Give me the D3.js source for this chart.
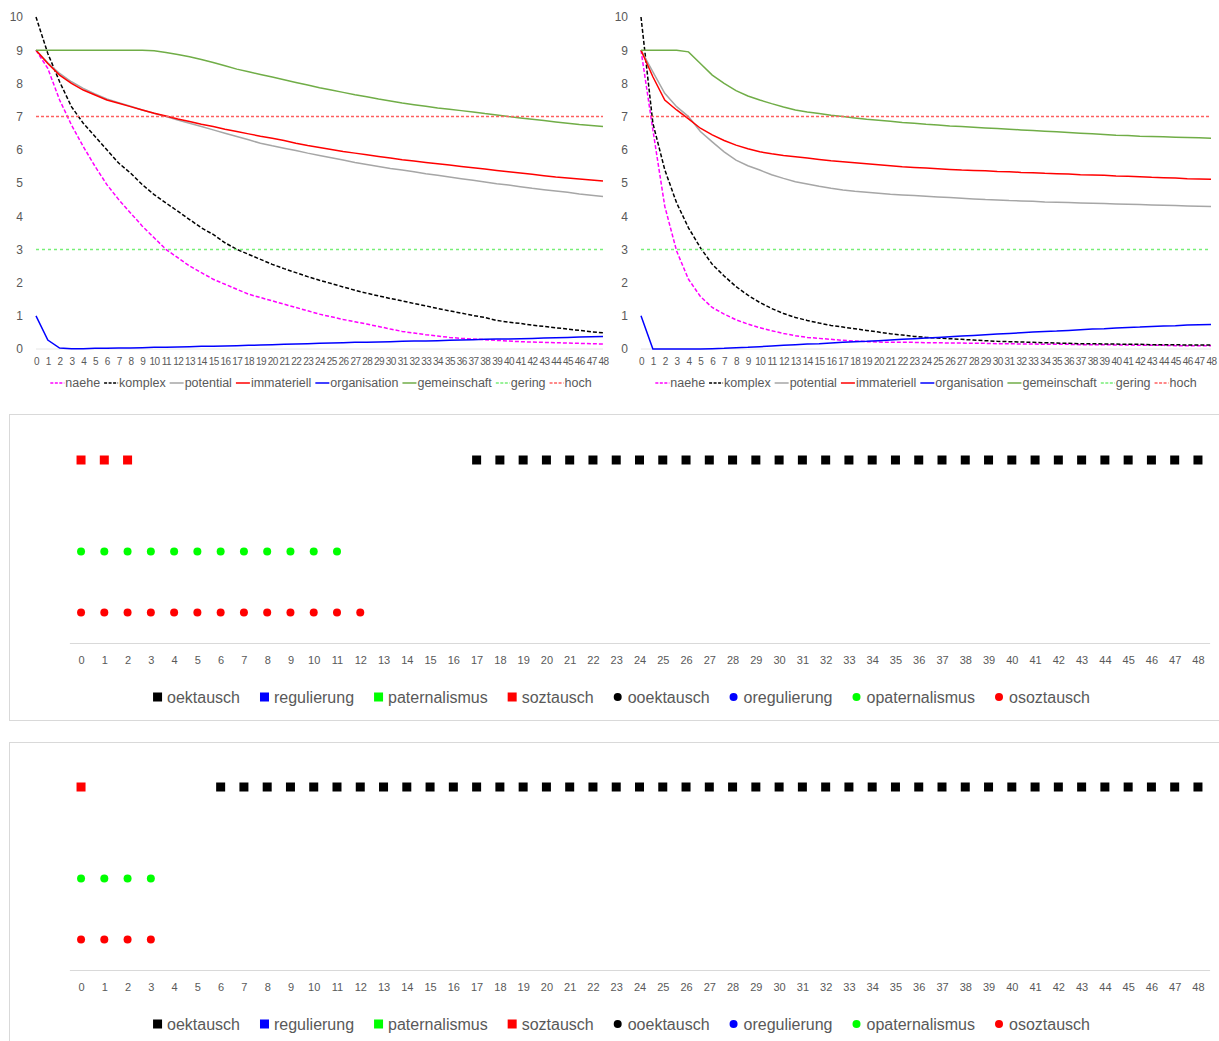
<!DOCTYPE html>
<html>
<head>
<meta charset="utf-8">
<script src="https://cdn.jsdelivr.net/npm/d3@7"></script>
<style>
  body { margin: 0; background: #fff; }
  text { font-family: "Liberation Sans", Arial, sans-serif; fill: #595959; }
</style>
</head>
<body>
<svg width="1219" height="1041"></svg>
<script>
// ---------- Daten ----------
const steps = d3.range(0, 49); // Kategorien 0..48

// linkes Diagramm
const naeheL = [9, 8.45, 7.5, 6.75, 6.1, 5.5, 4.95, 4.5, 4.1, 3.7, 3.35, 3.0, 2.75, 2.5, 2.3, 2.1, 1.95, 1.8, 1.65, 1.55, 1.45, 1.35, 1.25, 1.15, 1.05, 0.97, 0.89, 0.82, 0.75, 0.68, 0.6, 0.53, 0.48, 0.43, 0.39, 0.35, 0.32, 0.3, 0.28, 0.26, 0.24, 0.22, 0.21, 0.2, 0.19, 0.18, 0.17, 0.16, 0.15];
const komplexL = [10, 8.9, 8.05, 7.3, 6.8, 6.4, 6.0, 5.6, 5.3, 4.95, 4.65, 4.4, 4.15, 3.9, 3.65, 3.45, 3.2, 3.0, 2.85, 2.7, 2.55, 2.42, 2.3, 2.18, 2.07, 1.97, 1.87, 1.77, 1.68, 1.6, 1.52, 1.45, 1.37, 1.3, 1.22, 1.15, 1.08, 1.01, 0.95, 0.86, 0.81, 0.77, 0.72, 0.68, 0.64, 0.6, 0.56, 0.52, 0.49];
const potentialL = [9, 8.62, 8.3, 8.05, 7.85, 7.68, 7.53, 7.42, 7.31, 7.2, 7.1, 7.0, 6.9, 6.8, 6.7, 6.6, 6.5, 6.4, 6.3, 6.2, 6.12, 6.05, 5.98, 5.9, 5.83, 5.76, 5.69, 5.62, 5.56, 5.5, 5.44, 5.39, 5.34, 5.28, 5.23, 5.18, 5.13, 5.08, 5.03, 4.98, 4.94, 4.89, 4.84, 4.8, 4.76, 4.72, 4.67, 4.63, 4.59];
const immateriellL = [9, 8.6, 8.25, 8.0, 7.8, 7.65, 7.5, 7.4, 7.3, 7.2, 7.1, 7.02, 6.93, 6.85, 6.77, 6.7, 6.62, 6.55, 6.48, 6.41, 6.35, 6.28, 6.2, 6.13, 6.07, 6.01, 5.95, 5.9, 5.85, 5.8, 5.75, 5.7, 5.66, 5.62, 5.58, 5.54, 5.5, 5.46, 5.42, 5.38, 5.34, 5.3, 5.26, 5.22, 5.18, 5.15, 5.12, 5.09, 5.06];
const organisationL = [1.0, 0.27, 0.03, 0.01, 0.01, 0.02, 0.02, 0.03, 0.03, 0.04, 0.05, 0.05, 0.06, 0.07, 0.08, 0.08, 0.09, 0.1, 0.11, 0.12, 0.13, 0.14, 0.15, 0.16, 0.17, 0.18, 0.19, 0.2, 0.2, 0.21, 0.22, 0.23, 0.24, 0.24, 0.25, 0.26, 0.27, 0.28, 0.29, 0.3, 0.3, 0.31, 0.32, 0.33, 0.34, 0.35, 0.36, 0.37, 0.38];
const gemeinschaftL = [9, 9, 9, 9, 9, 9, 9, 9, 9, 9, 8.98, 8.93, 8.87, 8.8, 8.72, 8.63, 8.53, 8.43, 8.35, 8.27, 8.19, 8.11, 8.03, 7.95, 7.87, 7.8, 7.73, 7.66, 7.6, 7.53, 7.47, 7.41, 7.36, 7.31, 7.26, 7.22, 7.18, 7.14, 7.09, 7.05, 7.0, 6.96, 6.92, 6.88, 6.84, 6.8, 6.76, 6.73, 6.7];

// rechtes Diagramm
const naeheR = [9, 6.6, 4.3, 2.95, 2.1, 1.58, 1.25, 1.05, 0.88, 0.75, 0.64, 0.55, 0.47, 0.4, 0.35, 0.32, 0.29, 0.26, 0.24, 0.22, 0.21, 0.2, 0.2, 0.2, 0.19, 0.19, 0.18, 0.18, 0.17, 0.17, 0.16, 0.16, 0.15, 0.15, 0.14, 0.14, 0.14, 0.13, 0.13, 0.13, 0.12, 0.12, 0.11, 0.11, 0.11, 0.1, 0.1, 0.1, 0.1];
const komplexR = [10, 6.8, 5.4, 4.4, 3.65, 3.05, 2.55, 2.2, 1.88, 1.62, 1.4, 1.22, 1.07, 0.95, 0.86, 0.78, 0.71, 0.66, 0.61, 0.56, 0.51, 0.46, 0.42, 0.38, 0.35, 0.33, 0.31, 0.29, 0.27, 0.25, 0.23, 0.22, 0.21, 0.2, 0.19, 0.18, 0.17, 0.16, 0.16, 0.15, 0.15, 0.14, 0.14, 0.13, 0.13, 0.13, 0.12, 0.12, 0.12];
const potentialR = [9, 8.35, 7.7, 7.3, 7.0, 6.55, 6.24, 5.94, 5.69, 5.52, 5.39, 5.25, 5.14, 5.04, 4.97, 4.9, 4.84, 4.79, 4.75, 4.72, 4.69, 4.66, 4.64, 4.62, 4.6, 4.58, 4.56, 4.54, 4.52, 4.5, 4.49, 4.47, 4.46, 4.45, 4.43, 4.42, 4.41, 4.4, 4.39, 4.38, 4.37, 4.36, 4.35, 4.34, 4.33, 4.32, 4.31, 4.3, 4.29];
const immateriellR = [9, 8.2, 7.5, 7.2, 6.93, 6.65, 6.45, 6.28, 6.14, 6.03, 5.94, 5.88, 5.83, 5.79, 5.75, 5.71, 5.67, 5.64, 5.61, 5.58, 5.55, 5.52, 5.49, 5.47, 5.45, 5.43, 5.41, 5.39, 5.38, 5.37, 5.35, 5.34, 5.32, 5.31, 5.29, 5.28, 5.27, 5.25, 5.24, 5.23, 5.21, 5.2, 5.19, 5.17, 5.16, 5.15, 5.13, 5.12, 5.11];
const organisationR = [1.0, 0, 0, 0, 0, 0, 0.01, 0.02, 0.04, 0.05, 0.07, 0.09, 0.11, 0.13, 0.15, 0.16, 0.18, 0.2, 0.22, 0.23, 0.25, 0.27, 0.29, 0.31, 0.33, 0.35, 0.37, 0.39, 0.41, 0.43, 0.45, 0.47, 0.49, 0.51, 0.53, 0.54, 0.56, 0.58, 0.6, 0.61, 0.63, 0.65, 0.66, 0.68, 0.69, 0.7, 0.72, 0.73, 0.74];
const gemeinschaftR = [9, 9, 9, 9, 8.95, 8.6, 8.25, 8.0, 7.78, 7.62, 7.5, 7.39, 7.29, 7.2, 7.14, 7.09, 7.04, 7.0, 6.96, 6.92, 6.89, 6.86, 6.82, 6.8, 6.77, 6.75, 6.72, 6.7, 6.68, 6.66, 6.64, 6.62, 6.6, 6.58, 6.56, 6.54, 6.52, 6.5, 6.48, 6.46, 6.44, 6.43, 6.41, 6.4, 6.39, 6.38, 6.37, 6.36, 6.35];

// Schwellen
const gering = 3;
const hoch = 7;

// Punktdiagramme: Kategorien mit Wert (Reihe)
const oben_soztausch = [0, 1, 2];
const oben_oektausch = [17, 18, 19, 20, 21, 22, 23, 24, 25, 26, 27, 28, 29, 30, 31, 32, 33, 34, 35, 36, 37, 38, 39, 40, 41, 42, 43, 44, 45, 46, 47, 48];
const oben_opaternalismus = [0, 1, 2, 3, 4, 5, 6, 7, 8, 9, 10, 11];
const oben_osoztausch = [0, 1, 2, 3, 4, 5, 6, 7, 8, 9, 10, 11, 12];

const unten_soztausch = [0];
const unten_oektausch = [6, 7, 8, 9, 10, 11, 12, 13, 14, 15, 16, 17, 18, 19, 20, 21, 22, 23, 24, 25, 26, 27, 28, 29, 30, 31, 32, 33, 34, 35, 36, 37, 38, 39, 40, 41, 42, 43, 44, 45, 46, 47, 48];
const unten_opaternalismus = [0, 1, 2, 3];
const unten_osoztausch = [0, 1, 2, 3];

// Höhe der Reihen im Punktdiagramm
const levelSquare = 3;
const levelPaternal = 1.5;
const levelSoz = 0.5;

// ---------- Darstellung ----------
const svg = d3.select("svg");

const lineStyles = [
  { name: "naehe", color: "#ff00ff", dash: "4,2" },
  { name: "komplex", color: "#000000", dash: "4,2" },
  { name: "potential", color: "#a6a6a6", dash: null },
  { name: "immateriell", color: "#ff0000", dash: null },
  { name: "organisation", color: "#0000ff", dash: null },
  { name: "gemeinschaft", color: "#70ad47", dash: null },
  { name: "gering", color: "#77ee77", dash: "3,3" },
  { name: "hoch", color: "#ff6060", dash: "3,2" }
];

function drawLineChart(x0, x1, series, legendCx) {
  const x = d3.scaleLinear().domain([0, 48]).range([x0, x1]);
  const y = d3.scaleLinear().domain([0, 10]).range([349, 17]);
  const g = svg.append("g");

  // Nulllinie
  g.append("line")
    .attr("x1", x0).attr("x2", x1)
    .attr("y1", y(0)).attr("y2", y(0))
    .attr("stroke", "#e6e6e6").attr("stroke-width", 1);

  const yAxis = g.append("g")
    .attr("transform", "translate(" + x0 + ",0)")
    .call(d3.axisLeft(y).ticks(10).tickSize(0).tickPadding(13));
  yAxis.select(".domain").remove();
  yAxis.selectAll("text").style("font-size", "12px").attr("fill", "#595959");

  const xAxis = g.append("g")
    .attr("transform", "translate(0," + y(0) + ")")
    .call(d3.axisBottom(x).tickValues(steps).tickSize(0).tickPadding(9).tickFormat(d3.format("d")));
  xAxis.select(".domain").remove();
  xAxis.selectAll("text")
    .style("font-size", "10px")
    .style("letter-spacing", "-0.5px")
    .attr("fill", "#595959");

  const line = d3.line()
    .x((d, i) => x(steps[i]))
    .y((d) => y(d));

  series.forEach((s, k) => {
    const st = lineStyles[k];
    g.append("path")
      .datum(s)
      .attr("fill", "none")
      .attr("stroke", st.color)
      .attr("stroke-width", 1.5)
      .attr("stroke-dasharray", st.dash)
      .attr("d", line);
  });

  // Legende
  const leg = g.append("g");
  let cx = 0;
  lineStyles.forEach((st) => {
    leg.append("line")
      .attr("x1", cx).attr("x2", cx + 14)
      .attr("y1", 383).attr("y2", 383)
      .attr("stroke", st.color)
      .attr("stroke-width", 1.5)
      .attr("stroke-dasharray", st.dash ? "3,1.5" : null);
    const t = leg.append("text")
      .attr("x", cx + 15)
      .attr("y", 383)
      .attr("dominant-baseline", "central")
      .style("font-size", "12.5px")
      .text(st.name);
    cx += 15 + t.node().getComputedTextLength() + 4;
  });
  leg.attr("transform", "translate(" + (legendCx - cx / 2) + ",0)");
}

drawLineChart(36, 603,
  [naeheL, komplexL, potentialL, immateriellL, organisationL, gemeinschaftL,
   steps.map(() => gering), steps.map(() => hoch)], 323);
drawLineChart(641, 1211,
  [naeheR, komplexR, potentialR, immateriellR, organisationR, gemeinschaftR,
   steps.map(() => gering), steps.map(() => hoch)], 928);

// ---------- Punktdiagramme ----------
const dotLegend = [
  { name: "oektausch", color: "#000000", shape: "square" },
  { name: "regulierung", color: "#0000ff", shape: "square" },
  { name: "paternalismus", color: "#00ff00", shape: "square" },
  { name: "soztausch", color: "#ff0000", shape: "square" },
  { name: "ooektausch", color: "#000000", shape: "circle" },
  { name: "oregulierung", color: "#0000ff", shape: "circle" },
  { name: "opaternalismus", color: "#00ff00", shape: "circle" },
  { name: "osoztausch", color: "#ff0000", shape: "circle" }
];

function drawDotPanel(top, bottom, axisY, soz, oek, pat, osoz) {
  const g = svg.append("g");
  g.append("rect")
    .attr("x", 9.5).attr("y", top + 0.5)
    .attr("width", 1230).attr("height", bottom - top)
    .attr("fill", "none").attr("stroke", "#d9d9d9").attr("stroke-width", 1);

  const x = d3.scalePoint().domain(steps).range([69.4, 1209.6]).padding(0.5);
  const y = d3.scaleLinear().domain([0, 3.5]).range([axisY, axisY - 3.5 * 61]);

  const xAxis = g.append("g")
    .attr("transform", "translate(0," + axisY + ")")
    .call(d3.axisBottom(x).tickSize(0).tickSizeOuter(0).tickPadding(13));
  xAxis.select(".domain").attr("stroke", "#d9d9d9").attr("stroke-width", 1.2);
  xAxis.selectAll("text").style("font-size", "11px").attr("fill", "#595959");

  const sq = 9;
  g.selectAll(".oek").data(oek).enter().append("rect")
    .attr("x", (d) => x(d) - sq / 2).attr("y", y(levelSquare) - sq / 2)
    .attr("width", sq).attr("height", sq).attr("fill", "#000000");
  g.selectAll(".soz").data(soz).enter().append("rect")
    .attr("x", (d) => x(d) - sq / 2).attr("y", y(levelSquare) - sq / 2)
    .attr("width", sq).attr("height", sq).attr("fill", "#ff0000");
  g.selectAll(".pat").data(pat).enter().append("circle")
    .attr("cx", (d) => x(d)).attr("cy", y(levelPaternal))
    .attr("r", 4).attr("fill", "#00ff00");
  g.selectAll(".osoz").data(osoz).enter().append("circle")
    .attr("cx", (d) => x(d)).attr("cy", y(levelSoz))
    .attr("r", 4).attr("fill", "#ff0000");

  // Legende
  const ly = axisY + 54;
  const leg = g.append("g");
  let cx = 0;
  dotLegend.forEach((it) => {
    if (it.shape === "square") {
      leg.append("rect").attr("x", cx).attr("y", ly - 4.5)
        .attr("width", 9).attr("height", 9).attr("fill", it.color);
    } else {
      leg.append("circle").attr("cx", cx + 4).attr("cy", ly)
        .attr("r", 4).attr("fill", it.color);
    }
    const t = leg.append("text")
      .attr("x", cx + 14).attr("y", ly)
      .attr("dominant-baseline", "central")
      .style("font-size", "16px")
      .text(it.name);
    cx += 14 + t.node().getComputedTextLength() + 20;
  });
  cx -= 20;
  leg.attr("transform", "translate(" + (621.5 - cx / 2) + ",0)");
}

drawDotPanel(414, 720, 643, oben_soztausch, oben_oektausch, oben_opaternalismus, oben_osoztausch);
drawDotPanel(742, 1100, 970, unten_soztausch, unten_oektausch, unten_opaternalismus, unten_osoztausch);
</script>
</body>
</html>
